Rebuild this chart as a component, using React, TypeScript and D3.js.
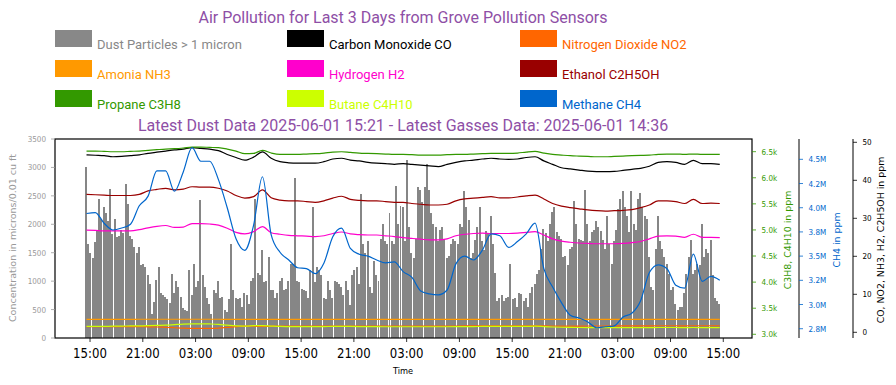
import { useEffect, useRef } from "react";
import * as d3 from "d3";

// dust particles > 1 micron, one bar every 15 min from 2025-05-29 14:33
const dust = [
  3010, 1660, 1500, 1400, 1680, 1900, 2440, 2100, 2310, 2200, 2050, 2620, 1830, 2090, 1770, 1800, 1900, 1850, 2710, 2360,
  1800, 1750, 1600, 1490, 1600, 1280, 1300, 1250, 1100, 950, 430, 640, 1020, 1250, 800, 760, 720, 680, 620, 1130,
  800, 1000, 900, 720, 520, 500, 480, 1190, 760, 1300, 900, 1000, 2430, 1100, 900, 700, 600, 420,
  840, 800, 1000, 700, 720, 500, 450, 690, 1650, 840, 700, 690, 700, 540, 800, 760, 600, 1000, 1050, 2450,
  1150, 1100, 1540, 990, 1000, 1420, 840, 850, 700, 800, 1000, 1050, 840, 860, 1000, 1300, 1310, 2820, 1000, 980,
  860, 840, 830, 700, 1200, 2310, 990, 1250, 1200, 1100, 700, 690, 1000, 850, 700, 1000, 980, 950,
  900, 760, 1000, 850, 580, 1100, 1200, 1250, 950, 2540, 1650, 1500, 1700, 900, 800, 1350, 1100, 1000, 1750, 2000,
  1700, 1650, 2200, 1700, 1650, 2680, 2000, 2330, 2300, 1700, 3125, 1950, 1500, 1400, 1750, 2650, 2600, 2400, 2650, 3060,
  2600, 2200, 2000, 1950, 1700, 1900, 1950, 1750, 1400, 1450, 1650, 1750, 1700, 1650, 2000, 1950, 2590, 2300,
  2070, 1400, 1500, 1720, 1950, 2300, 1700, 1550, 1880, 1850, 2150, 1650, 1150, 650, 700, 750, 650, 700, 720, 1300,
  690, 700, 550, 800, 780, 650, 700, 550, 800, 900, 950, 1130, 1200, 1570, 1925, 1850, 1700, 2000, 2210, 2300,
  1860, 1800, 1750, 1420, 1450, 1280, 1570, 1600, 2410, 2000, 1750, 1720, 1700, 2600, 2000, 1700, 1860, 1900,
  2050, 1950, 1880, 1720, 1570, 2150, 1650, 1300, 1700, 1900, 2270, 2450, 2590, 2300, 2150, 1860, 2590, 2000, 1900, 2440,
  2550, 2300, 2150, 2100, 1420, 900, 850, 1570, 2150, 1700, 1570, 1430, 1300, 1130, 840, 900, 600, 500, 550, 548,
  800, 1130, 1420, 1715, 1130, 1200, 1300, 1280, 2010, 1420, 1570, 1500, 1715, 1100, 700, 650, 600,
];

// gases, hourly from 2025-05-29 14:36 to 2025-06-01 14:36
const co = [
  46.7, 46.6, 46.5, 46.2, 46.3, 46.5, 46.7, 47.1, 47.4, 47.7, 48.0, 48.2, 48.6, 48.4, 48.2, 47.8, 46.8, 46.0, 45.3, 46.1,
  47.5, 45.8, 44.9, 44.6, 44.5, 44.5, 44.5, 44.9, 45.6, 45.8, 45.3, 45.1, 44.7, 44.5, 44.4, 44.2, 44.4, 44.2, 44.0, 43.8,
  43.6, 44.2, 44.7, 45.1, 45.3, 45.6, 45.8, 45.6, 45.5, 45.6, 46.0, 46.2, 45.1, 44.2, 43.3, 43.0, 42.7, 42.4, 42.3, 42.3,
  42.35, 42.6, 42.9, 43.15, 43.7, 44.7, 44.9, 44.7, 44.2, 45.25, 44.4, 44.4, 44.2,
];
const no2 = [
  1.5, 1.5, 1.5, 1.5, 1.5, 1.5, 1.5, 1.45, 1.4, 1.3, 1.2, 1.1, 1.05, 1.05, 1.05, 1.1, 1.3, 1.5, 1.6, 1.6,
  1.55, 1.6, 1.65, 1.65, 1.65, 1.65, 1.65, 1.65, 1.62, 1.6, 1.65, 1.65, 1.66, 1.66, 1.66, 1.66, 1.66, 1.66, 1.65, 1.65,
  1.65, 1.65, 1.66, 1.67, 1.67, 1.68, 1.68, 1.68, 1.68, 1.68, 1.7, 1.7, 1.68, 1.66, 1.65, 1.65, 1.65, 1.66, 1.66, 1.66,
  1.67, 1.68, 1.68, 1.69, 1.7, 1.72, 1.72, 1.72, 1.71, 1.73, 1.72, 1.72, 1.72,
];
const nh3 = [
  3.42, 3.42, 3.42, 3.42, 3.42, 3.42, 3.43, 3.43, 3.43, 3.43, 3.43, 3.43, 3.44, 3.44, 3.43, 3.43, 3.42, 3.42, 3.41, 3.42,
  3.42, 3.42, 3.41, 3.41, 3.41, 3.41, 3.41, 3.41, 3.42, 3.42, 3.42, 3.41, 3.41, 3.41, 3.41, 3.41, 3.41, 3.41, 3.40, 3.40,
  3.40, 3.40, 3.41, 3.41, 3.42, 3.42, 3.42, 3.42, 3.42, 3.42, 3.42, 3.43, 3.42, 3.41, 3.40, 3.40, 3.40, 3.40, 3.40, 3.40,
  3.40, 3.40, 3.40, 3.40, 3.41, 3.41, 3.41, 3.41, 3.41, 3.42, 3.41, 3.41, 3.41,
];
const h2 = [
  26.9, 26.8, 26.7, 26.7, 26.7, 26.7, 27.0, 27.5, 27.9, 28.1, 27.6, 27.7, 28.6, 28.6, 28.5, 28.2, 27.4, 26.3, 25.9, 26.5,
  27.8, 26.2, 25.8, 25.5, 25.4, 25.3, 25.2, 25.4, 26.0, 26.4, 25.9, 25.7, 25.6, 25.6, 25.4, 25.2, 24.9, 24.7, 24.5, 24.3,
  24.3, 24.6, 25.4, 25.8, 26.0, 26.1, 26.0, 26.0, 26.0, 26.1, 26.3, 26.5, 25.6, 24.6, 24.0, 23.7, 23.5, 23.4, 23.3, 23.3,
  23.3, 23.4, 23.6, 23.9, 24.6, 25.3, 25.4, 25.3, 25.0, 25.8, 25.0, 25.0, 24.9,
];
const ethanol = [
  36.3, 36.2, 36.1, 36.0, 36.0, 36.0, 36.3, 37.2, 37.6, 37.9, 37.5, 37.7, 38.3, 38.2, 38.2, 37.9, 37.2, 36.0, 35.3, 35.7,
  37.5, 35.4, 34.8, 34.6, 34.6, 34.4, 34.2, 34.6, 35.3, 35.8, 35.0, 34.7, 34.6, 34.6, 34.4, 34.2, 34.2, 33.9, 33.7, 33.5,
  33.5, 33.7, 34.6, 35.1, 35.3, 35.5, 35.7, 35.4, 35.4, 35.6, 35.9, 36.1, 35.1, 33.9, 33.2, 32.8, 32.5, 32.2, 32.0, 31.9,
  32.0, 32.1, 32.3, 32.8, 33.5, 34.6, 34.6, 34.4, 33.9, 35.0, 33.9, 34.0, 33.9,
];
const propane = [
  6512, 6512, 6506, 6499, 6499, 6506, 6512, 6525, 6538, 6550, 6557, 6570, 6589, 6589, 6582, 6576, 6550, 6512, 6461, 6467,
  6525, 6474, 6448, 6448, 6448, 6455, 6461, 6474, 6493, 6499, 6486, 6474, 6467, 6461, 6455, 6448, 6448, 6442, 6435, 6435,
  6435, 6442, 6448, 6448, 6455, 6461, 6467, 6467, 6467, 6474, 6493, 6506, 6474, 6448, 6435, 6423, 6416, 6410, 6403, 6403,
  6410, 6416, 6423, 6429, 6435, 6448, 6455, 6455, 6448, 6455, 6448, 6448, 6448,
];
const butane = [
  3150, 3150, 3152, 3155, 3158, 3160, 3162, 3165, 3170, 3175, 3185, 3195, 3200, 3200, 3198, 3192, 3175, 3160, 3158, 3165,
  3168, 3158, 3150, 3148, 3146, 3146, 3146, 3148, 3150, 3152, 3150, 3148, 3146, 3146, 3145, 3145, 3145, 3145, 3145, 3145,
  3145, 3145, 3146, 3148, 3148, 3150, 3150, 3150, 3150, 3150, 3152, 3155, 3148, 3140, 3135, 3132, 3130, 3128, 3126, 3126,
  3126, 3126, 3127, 3128, 3128, 3130, 3130, 3130, 3128, 3130, 3128, 3128, 3128,
];
// methane in millions of ppm
const methane = [
  3.94, 3.95, 3.84, 3.77, 3.79, 3.83, 4.02, 4.12, 4.38, 4.38, 4.17, 4.37, 4.62, 4.48, 4.48, 4.29, 4.0, 3.68, 3.56, 3.82,
  4.32, 3.72, 3.54, 3.46, 3.38, 3.37, 3.32, 3.43, 3.7, 3.79, 3.58, 3.52, 3.5, 3.46, 3.43, 3.44, 3.34, 3.28, 3.14, 3.11,
  3.1, 3.15, 3.42, 3.5, 3.46, 3.56, 3.73, 3.71, 3.59, 3.65, 3.73, 3.84, 3.37, 3.18, 3.02, 2.89, 2.86, 2.82, 2.76, 2.77,
  2.78, 2.87, 2.91, 3.04, 3.33, 3.41, 3.37, 3.2, 3.17, 3.52, 3.24, 3.29, 3.25,
];

const dustTicks = [0, 500, 1000, 1500, 2000, 2500, 3000, 3500];
const c3Ticks = [3000, 3500, 4000, 4500, 5000, 5500, 6000, 6500];
const c3Labels = ["3.0k", "3.5k", "4.0k", "4.5k", "5.0k", "5.5k", "6.0k", "6.5k"];
const ch4Ticks = [2.75, 3.0, 3.25, 3.5, 3.75, 4.0, 4.25, 4.5];
const ch4Labels = ["2.8M", "3.0M", "3.2M", "3.5M", "3.8M", "4.0M", "4.2M", "4.5M"];
const ppmTicks = [0, 10, 20, 30, 40, 50];

const legendNames = [
  "Dust Particles > 1 micron", "Carbon Monoxide CO", "Nitrogen Dioxide NO2",
  "Amonia NH3", "Hydrogen H2", "Ethanol C2H5OH",
  "Propane C3H8", "Butane C4H10", "Methane CH4",
];
const legendColors = [
  "#888888", "#000000", "#FF6600",
  "#FF9900", "#FF00CC", "#990000",
  "#339900", "#CCFF00", "#0066CC",
];

const W = 896;
const H = 385;
const plot = { left: 55, right: 752, top: 139, bottom: 338 };
const purple = "#8E4FA6";
const mono = "DejaVu Sans, sans-serif";

export default function App() {
  const ref = useRef<SVGSVGElement>(null);

  useEffect(() => {
    if (!ref.current) return;
    const svg = d3.select(ref.current);
    svg.selectAll("*").remove();

    const dustStart = Date.UTC(2025, 4, 29, 14, 33);
    const gasStart = Date.UTC(2025, 4, 29, 14, 36);
    const dustTimes = dust.map((_, i) => new Date(dustStart + i * 15 * 60000));
    const gasTimes = co.map((_, i) => new Date(gasStart + i * 3600000));

    const x = d3
      .scaleUtc()
      .domain([new Date(Date.UTC(2025, 4, 29, 11, 1)), new Date(Date.UTC(2025, 5, 1, 18, 16))])
      .range([plot.left, plot.right]);
    const yDust = d3.scaleLinear().domain([0, 3500]).range([plot.bottom, plot.top]);
    const yC3 = d3.scaleLinear().domain([2929, 6743]).range([plot.bottom, plot.top]);
    const yCH4 = d3.scaleLinear().domain([2.654, 4.71]).range([plot.bottom, plot.top]);
    const yPpm = d3.scaleLinear().domain([-1.5, 50.87]).range([plot.bottom, plot.top]);

    // titles
    svg.append("text").attr("x", 403).attr("y", 23).attr("text-anchor", "middle")
      .attr("font-family", "Roboto").attr("font-size", 16).attr("fill", purple)
      .text("Air Pollution for Last 3 Days from Grove Pollution Sensors");
    svg.append("text").attr("x", 403).attr("y", 131).attr("text-anchor", "middle")
      .attr("font-family", "Roboto").attr("font-size", 16).attr("fill", purple)
      .text("Latest Dust Data 2025-06-01 15:21 - Latest Gasses Data: 2025-06-01 14:36");

    // legend 3x3
    const colX = [55, 287, 520];
    legendNames.forEach((name, i) => {
      const cx = colX[i % 3];
      const r = Math.floor(i / 3);
      const g = svg.append("g").attr("transform", `translate(${cx},${30 + r * 30})`);
      g.append("rect").attr("width", 37).attr("height", 17).attr("fill", legendColors[i]);
      g.append("text").attr("x", 42).attr("y", 18.7).attr("font-family", "Roboto")
        .attr("font-size", 13).attr("fill", legendColors[i]).text(name);
    });

    // dust bars
    const step = x(dustTimes[1]) - x(dustTimes[0]);
    const bw = step * 0.9;
    svg.append("g").attr("shape-rendering", "crispEdges")
      .selectAll("rect").data(dust).enter().append("rect")
      .attr("x", (_, i) => x(dustTimes[i]) - bw / 2)
      .attr("y", (d) => yDust(d))
      .attr("width", bw)
      .attr("height", (d) => plot.bottom - yDust(d))
      .attr("fill", "#868686");

    // gas lines
    const series: Array<[number[], string, d3.ScaleLinear<number, number>]> = [
      [co, "#000000", yPpm],
      [no2, "#FF6600", yPpm],
      [nh3, "#FF9900", yPpm],
      [h2, "#FF00CC", yPpm],
      [ethanol, "#990000", yPpm],
      [propane, "#339900", yC3],
      [butane, "#CCFF00", yC3],
      [methane, "#0066CC", yCH4],
    ];
    series.forEach(([vals, color, ys]) => {
      const line = d3.line<number>()
        .x((_, i) => x(gasTimes[i]))
        .y((d) => ys(d))
        .curve(d3.curveMonotoneX);
      svg.append("path").attr("d", line(vals)).attr("fill", "none")
        .attr("stroke", color).attr("stroke-width", 1.2);
    });

    // frame
    svg.append("rect").attr("x", plot.left).attr("y", plot.top)
      .attr("width", plot.right - plot.left).attr("height", plot.bottom - plot.top)
      .attr("fill", "none").attr("stroke", "#000").attr("stroke-width", 1.2);

    // x axis
    const tickTimes = d3.utcHour.range(new Date(Date.UTC(2025, 4, 29, 15)), new Date(Date.UTC(2025, 5, 1, 16)), 6);
    const fmt = d3.utcFormat("%H:%M");
    const gx = svg.append("g");
    tickTimes.forEach((t) => {
      const px = x(t);
      gx.append("line").attr("x1", px).attr("x2", px).attr("y1", plot.bottom).attr("y2", plot.bottom + 4)
        .attr("stroke", "#000").attr("stroke-width", 0.8);
      gx.append("text").attr("transform", `translate(${px},${358}) scale(0.87,1)`)
        .attr("text-anchor", "middle").attr("font-family", mono).attr("font-size", 13.5)
        .attr("fill", "#000").text(fmt(t));
    });
    svg.append("text").attr("transform", `translate(403,374) scale(0.87,1)`).attr("text-anchor", "middle")
      .attr("font-family", mono).attr("font-size", 9.5).attr("fill", "#000").text("Time");

    // left axis
    const gl = svg.append("g");
    dustTicks.forEach((v) => {
      const py = yDust(v);
      gl.append("line").attr("x1", plot.left - 4).attr("x2", plot.left).attr("y1", py).attr("y2", py)
        .attr("stroke", "#999").attr("stroke-width", 0.8);
      gl.append("text").attr("transform", `translate(${plot.left - 9},${py + 3}) scale(0.88,1)`)
        .attr("text-anchor", "end").attr("font-family", mono).attr("font-size", 8.2)
        .attr("fill", "#999").text(String(v));
    });
    svg.append("text").attr("transform", `translate(16,238) rotate(-90)`).attr("text-anchor", "middle")
      .attr("font-family", mono).attr("font-size", 9.5).attr("fill", "#999")
      .text("Concentration in microns/0.01 cu ft");

    // right axes
    const rightAxis = (
      sx: number, ys: d3.ScaleLinear<number, number>, ticks: number[], labels: string[],
      color: string, label: string, labelX: number, spine: boolean,
    ) => {
      const g = svg.append("g");
      if (spine) {
        g.append("line").attr("x1", sx).attr("x2", sx).attr("y1", plot.top).attr("y2", plot.bottom)
          .attr("stroke", "#000").attr("stroke-width", 1);
      }
      ticks.forEach((v, i) => {
        const py = ys(v);
        g.append("line").attr("x1", sx).attr("x2", sx + 4).attr("y1", py).attr("y2", py)
          .attr("stroke", color).attr("stroke-width", 0.8);
        g.append("text").attr("transform", `translate(${sx + 9.5},${py + 3}) scale(0.88,1)`)
          .attr("font-family", mono).attr("font-size", 8.2).attr("fill", color).text(labels[i]);
      });
      g.append("text").attr("transform", `translate(${labelX},240) rotate(-90)`).attr("text-anchor", "middle")
        .attr("font-family", mono).attr("font-size", 9.4).attr("fill", color).text(label);
    };
    rightAxis(plot.right, yC3, c3Ticks, c3Labels, "#339900", "C3H8, C4H10 in ppm", 791, false);
    rightAxis(799, yCH4, ch4Ticks, ch4Labels, "#0066CC", "CH4 in ppm", 840, true);
    rightAxis(853, yPpm, ppmTicks, ppmTicks.map(String), "#000000", "CO, NO2, NH3, H2, C2H5OH in ppm", 884, true);
  }, []);

  return (
    <svg
      ref={ref}
      width={W}
      height={H}
      style={{ position: "absolute", left: 0, top: 0, background: "#fff" }}
    />
  );
}
